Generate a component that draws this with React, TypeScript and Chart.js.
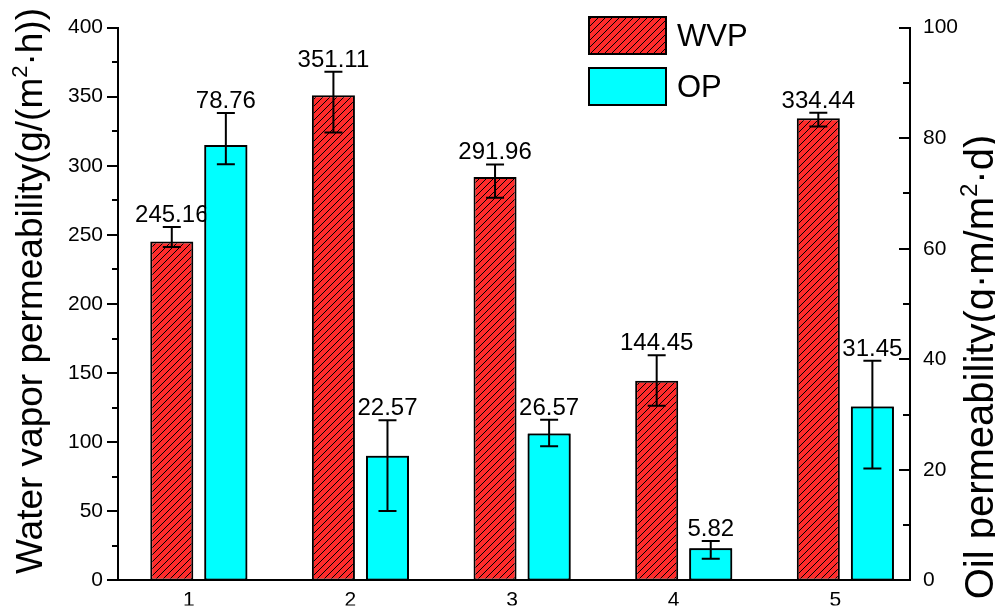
import { useEffect, useRef } from 'react';
import { Chart, registerables } from 'chart.js';

Chart.register(...registerables);

// Sample numbers on the x axis
const categories = [1, 2, 3, 4, 5];

// Water vapor permeability, g/(m²·h)
const wvpValues = [245.16, 351.11, 291.96, 144.45, 334.44];
const wvpErrUp = [10.5, 17, 9, 18.5, 4];
const wvpErrDown = [4, 27, 15, 18, 6];

// Oil permeability, g·m/m²·d
const opValues = [78.76, 22.57, 26.57, 5.82, 31.45];
const opErrUp = [5.8, 6.4, 2.5, 1.3, 8.3];
const opErrDown = [3.5, 10, 2.3, 1.9, 11.2];

// Axis ticks
const leftTicks = [0, 50, 100, 150, 200, 250, 300, 350, 400];
const leftMinorTicks = [25, 75, 125, 175, 225, 275, 325, 375];
const rightTicks = [0, 20, 40, 60, 80, 100];
const rightMinorTicks = [10, 30, 50, 70, 90];

const FONT = "'Liberation Sans', Arial, Helvetica, sans-serif";
const RED = '#ff2b2b';
const CYAN = '#00ffff';

function makeHatch(fill: string, gap: number) {
  const c = document.createElement('canvas');
  c.width = gap;
  c.height = gap;
  const g = c.getContext('2d')!;
  g.fillStyle = fill;
  g.fillRect(0, 0, gap, gap);
  g.strokeStyle = '#000';
  g.lineWidth = 1;
  g.beginPath();
  g.moveTo(0, gap);
  g.lineTo(gap, 0);
  g.moveTo(-1, 1);
  g.lineTo(1, -1);
  g.moveTo(gap - 1, gap + 1);
  g.lineTo(gap + 1, gap - 1);
  g.stroke();
  return g.createPattern(c, 'repeat')!;
}

type Part = { t: string; sup?: boolean };

// Draws text with superscripts, rotated about its centre
function drawRich(ctx: CanvasRenderingContext2D, parts: Part[], cx: number, cy: number, size: number, rot: number) {
  ctx.save();
  ctx.translate(cx, cy);
  ctx.rotate(rot);
  ctx.fillStyle = '#000';
  ctx.textBaseline = 'alphabetic';
  ctx.textAlign = 'left';
  const widths = parts.map((p) => {
    ctx.font = `${p.sup ? Math.round(size * 0.6) : size}px ${FONT}`;
    return ctx.measureText(p.t).width;
  });
  const total = widths.reduce((a, b) => a + b, 0);
  let x = -total / 2;
  const base = size * 0.36;
  parts.forEach((p, i) => {
    ctx.font = `${p.sup ? Math.round(size * 0.6) : size}px ${FONT}`;
    ctx.fillText(p.t, x, p.sup ? base - size * 0.42 : base);
    x += widths[i];
  });
  ctx.restore();
}

function drawErrorsAndLabels(chart: any, index: number, ups: number[], downs: number[], values: number[]) {
  const ctx = chart.ctx as CanvasRenderingContext2D;
  const meta = chart.getDatasetMeta(index);
  const yScale = chart.scales[meta.yAxisID];
  ctx.save();
  ctx.strokeStyle = '#000';
  ctx.lineWidth = 2;
  meta.data.forEach((bar: any, j: number) => {
    const x = bar.x;
    const top = yScale.getPixelForValue(values[j] + ups[j]);
    const bottom = yScale.getPixelForValue(values[j] - downs[j]);
    const cap = 9;
    ctx.beginPath();
    ctx.moveTo(x, top);
    ctx.lineTo(x, bottom);
    ctx.moveTo(x - cap, top);
    ctx.lineTo(x + cap, top);
    ctx.moveTo(x - cap, bottom);
    ctx.lineTo(x + cap, bottom);
    ctx.stroke();
    ctx.fillStyle = '#000';
    ctx.font = `24px ${FONT}`;
    ctx.textAlign = 'center';
    ctx.textBaseline = 'alphabetic';
    ctx.fillText(values[j].toFixed(2), x, top - 5);
  });
  ctx.restore();
}

const overlayPlugin = {
  id: 'overlay',
  afterDatasetsDraw(chart: any) {
    drawErrorsAndLabels(chart, 0, wvpErrUp, wvpErrDown, wvpValues);
    // OP bars sit above the WVP labels
    chart.getDatasetMeta(1).controller.draw();
    drawErrorsAndLabels(chart, 1, opErrUp, opErrDown, opValues);
  },
  afterDraw(chart: any) {
    const ctx = chart.ctx as CanvasRenderingContext2D;
    const area = chart.chartArea;
    const yL = chart.scales.y;
    const yR = chart.scales.y1;
    ctx.save();
    ctx.strokeStyle = '#000';
    ctx.lineWidth = 2;
    ctx.beginPath();
    leftTicks.forEach((v) => {
      const p = Math.round(yL.getPixelForValue(v));
      ctx.moveTo(area.left - 11, p);
      ctx.lineTo(area.left, p);
    });
    leftMinorTicks.forEach((v) => {
      const p = Math.round(yL.getPixelForValue(v));
      ctx.moveTo(area.left - 6, p);
      ctx.lineTo(area.left, p);
    });
    rightTicks.forEach((v) => {
      const p = Math.round(yR.getPixelForValue(v));
      ctx.moveTo(area.right - 11, p);
      ctx.lineTo(area.right, p);
    });
    rightMinorTicks.forEach((v) => {
      const p = Math.round(yR.getPixelForValue(v));
      ctx.moveTo(area.right - 7, p);
      ctx.lineTo(area.right, p);
    });
    ctx.stroke();

    // Legend
    const entries = [
      { label: 'WVP', fill: chart.data.datasets[0].backgroundColor, y: 16 },
      { label: 'OP', fill: chart.data.datasets[1].backgroundColor, y: 67 },
    ];
    entries.forEach((e) => {
      ctx.fillStyle = e.fill;
      ctx.fillRect(589, e.y + 1, 77, 37);
      ctx.strokeRect(589, e.y + 1, 77, 37);
      ctx.fillStyle = '#000';
      ctx.font = `31px ${FONT}`;
      ctx.textAlign = 'left';
      ctx.textBaseline = 'middle';
      ctx.fillText(e.label, 677, e.y + 21);
    });
    ctx.restore();

    // Axis titles
    drawRich(ctx, [{ t: 'Water vapor permeability(g/(m' }, { t: '2', sup: true }, { t: '·h))' }], 29, 291, 37, -Math.PI / 2);
    drawRich(ctx, [{ t: 'Oil permeability(g·m/m' }, { t: '2', sup: true }, { t: '·d)' }], 979, 367, 40, -Math.PI / 2);
  },
};

export default function App() {
  const ref = useRef<HTMLCanvasElement | null>(null);

  useEffect(() => {
    const canvas = ref.current!;
    const hatch = makeHatch(RED, 7);
    const tickFont = { family: FONT, size: 21 };
    const chart = new Chart(canvas, {
      type: 'bar',
      data: {
        datasets: [
          {
            label: 'WVP',
            data: categories.map((c, i) => ({ x: c, y: wvpValues[i] })),
            backgroundColor: hatch as any,
            borderColor: '#000',
            borderWidth: 2,
            borderSkipped: false,
            yAxisID: 'y',
            categoryPercentage: 0.669,
            barPercentage: 0.796,
          },
          {
            label: 'OP',
            data: categories.map((c, i) => ({ x: c, y: opValues[i] })),
            backgroundColor: CYAN,
            borderColor: '#000',
            borderWidth: 2,
            borderSkipped: false,
            yAxisID: 'y1',
            categoryPercentage: 0.669,
            barPercentage: 0.796,
          },
        ],
      },
      options: {
        responsive: false,
        animation: false,
        devicePixelRatio: 1,
        layout: { padding: { top: 23, left: 0, right: 0, bottom: 0 } },
        plugins: { legend: { display: false }, tooltip: { enabled: false } },
        scales: {
          x: {
            type: 'linear',
            min: 0.5,
            max: 5.4,
            offset: false,
            afterBuildTicks: (s: any) => {
              s.ticks = categories.map((v) => ({ value: v }));
            },
            afterFit: (s: any) => {
              s.height = 25;
            },
            ticks: {
              callback: (v: any) => String(v),
              labelOffset: -10,
              padding: 7,
              font: tickFont,
              color: '#000',
              maxRotation: 0,
              autoSkip: false,
            },
            grid: { display: false, drawTicks: false },
            border: { display: true, color: '#000', width: 2 },
          },
          y: {
            type: 'linear',
            position: 'left',
            min: 0,
            max: 400,
            afterBuildTicks: (s: any) => {
              s.ticks = leftTicks.map((v) => ({ value: v }));
            },
            afterFit: (s: any) => {
              s.width = 118;
            },
            ticks: { padding: 15, font: tickFont, color: '#000' },
            grid: { display: false, drawTicks: false },
            border: { display: true, color: '#000', width: 2 },
          },
          y1: {
            type: 'linear',
            position: 'right',
            min: 0,
            max: 100,
            afterBuildTicks: (s: any) => {
              s.ticks = rightTicks.map((v) => ({ value: v }));
            },
            afterFit: (s: any) => {
              s.width = 85;
            },
            ticks: { padding: 13, font: tickFont, color: '#000' },
            grid: { display: false, drawTicks: false },
            border: { display: true, color: '#000', width: 2 },
          },
        },
      } as any,
      plugins: [overlayPlugin],
    });
    return () => chart.destroy();
  }, []);

  return (
    <div style={{ position: 'absolute', left: 0, top: 0, width: 995, height: 608, background: '#fff' }}>
      <canvas ref={ref} width={995} height={608} style={{ display: 'block' }} />
    </div>
  );
}
